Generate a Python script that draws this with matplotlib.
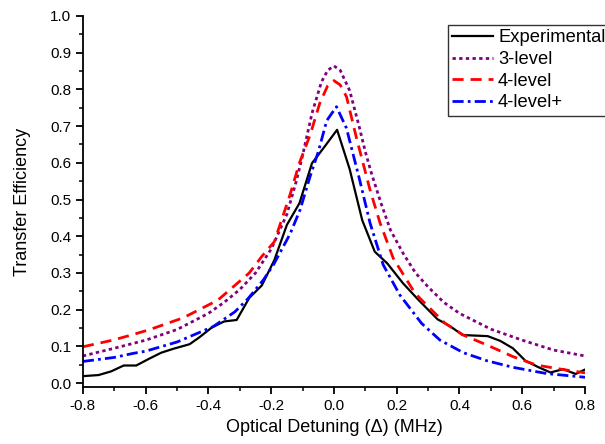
"""
Transfer efficiency vs optical detuning
Experimental data compared with the 3-level, 4-level and 4-level+ models.
"""

import matplotlib
matplotlib.use("Agg")
import matplotlib.pyplot as plt
from matplotlib.ticker import MultipleLocator

plt.rcParams['font.family'] = ['Liberation Sans', 'DejaVu Sans']

# Experimental points
exp_x = [-0.80, -0.75, -0.71, -0.67, -0.63, -0.59, -0.55, -0.51, -0.46, -0.43,
         -0.39, -0.35, -0.31, -0.27, -0.23, -0.19, -0.15, -0.11, -0.07, -0.03,
         0.01, 0.05, 0.09, 0.13, 0.17, 0.22, 0.27, 0.33, 0.37, 0.41,
         0.49, 0.53, 0.57, 0.61, 0.65, 0.69, 0.73, 0.77, 0.80]
exp_y = [0.019, 0.022, 0.032, 0.048, 0.048, 0.066, 0.083, 0.094, 0.106, 0.124,
         0.151, 0.168, 0.172, 0.232, 0.266, 0.335, 0.431, 0.490, 0.599, 0.644,
         0.690, 0.583, 0.444, 0.358, 0.326, 0.272, 0.226, 0.174, 0.155, 0.131,
         0.128, 0.115, 0.095, 0.061, 0.044, 0.029, 0.038, 0.025, 0.037]

# 3-level model
l3_x = [-0.80, -0.70, -0.60, -0.50, -0.40, -0.35, -0.30, -0.25, -0.20, -0.15,
        -0.12, -0.10, -0.07, -0.04, -0.02, 0.00, 0.02, 0.05, 0.08, 0.10,
        0.12, 0.15, 0.18, 0.22, 0.26, 0.30, 0.35, 0.40, 0.50, 0.60,
        0.70, 0.80]
l3_y = [0.074, 0.095, 0.117, 0.146, 0.190, 0.220, 0.255, 0.300, 0.365, 0.460,
        0.550, 0.620, 0.735, 0.820, 0.852, 0.864, 0.852, 0.797, 0.700, 0.630,
        0.570, 0.490, 0.417, 0.354, 0.300, 0.262, 0.220, 0.190, 0.147, 0.117,
        0.090, 0.074]

# 4-level model
l4_x = [-0.80, -0.70, -0.63, -0.59, -0.48, -0.37, -0.32, -0.27, -0.23, -0.19,
        -0.14, -0.11, -0.076, -0.045, -0.02, 0.00, 0.02, 0.04, 0.072, 0.115,
        0.147, 0.189, 0.258, 0.295, 0.354, 0.412, 0.487, 0.571, 0.646, 0.731,
        0.80]
l4_y = [0.099, 0.118, 0.135, 0.145, 0.178, 0.226, 0.263, 0.300, 0.345, 0.385,
        0.513, 0.600, 0.676, 0.763, 0.810, 0.824, 0.812, 0.780, 0.667, 0.526,
        0.436, 0.340, 0.245, 0.213, 0.163, 0.131, 0.104, 0.072, 0.049, 0.037,
        0.028]

# 4-level+ model
l4p_x = [-0.80, -0.70, -0.64, -0.60, -0.50, -0.385, -0.316, -0.273, -0.225, -0.193,
         -0.14, -0.108, -0.076, -0.05, -0.023, 0.008, 0.04, 0.056, 0.08, 0.115,
         0.157, 0.21, 0.279, 0.338, 0.412, 0.487, 0.571, 0.678, 0.80]
l4p_y = [0.059, 0.070, 0.081, 0.087, 0.112, 0.154, 0.194, 0.231, 0.281, 0.322,
         0.406, 0.472, 0.563, 0.630, 0.715, 0.753, 0.694, 0.640, 0.560, 0.436,
         0.322, 0.240, 0.163, 0.117, 0.083, 0.061, 0.043, 0.026, 0.016]

fig = plt.figure(figsize=(6.05, 4.44), dpi=100)
ax = fig.add_axes([0.137, 0.128, 0.830, 0.836])

ax.plot(exp_x, exp_y, color='black', lw=1.6, ls='-', label='Experimental')
ax.plot(l3_x, l3_y, color='#800080', lw=2, ls=(0, (1.2, 1.2)), label='3-level')
ax.plot(l4_x, l4_y, color='#ff0000', lw=2, ls=(0, (4, 2.5)), label='4-level')
ax.plot(l4p_x, l4p_y, color='#0000ff', lw=2, ls=(0, (4, 1.5, 1, 1.5)), label='4-level+')

ax.set_xlim(-0.8, 0.8)
ax.set_ylim(-0.011, 1.0)
ax.xaxis.set_major_locator(MultipleLocator(0.2))
ax.xaxis.set_minor_locator(MultipleLocator(0.1))
ax.yaxis.set_major_locator(MultipleLocator(0.1))
ax.yaxis.set_minor_locator(MultipleLocator(0.05))
ax.set_xticklabels([f'{v:.1f}' for v in ax.get_xticks()])
ax.set_yticklabels([f'{v:.1f}' for v in ax.get_yticks()])

for side in ('top', 'right'):
    ax.spines[side].set_visible(False)
for side in ('left', 'bottom'):
    ax.spines[side].set_linewidth(1.3)
ax.tick_params(which='major', direction='out', length=5, width=1.3, labelsize=11)
ax.tick_params(which='minor', direction='out', length=3, width=1.1)

ax.set_xlabel('Optical Detuning (\u0394) (MHz)', fontsize=13)
ax.set_ylabel('Transfer Efficiency', fontsize=13, labelpad=14)

leg = fig.legend(loc='upper left', bbox_to_anchor=(0.740, 0.944), fontsize=13.2,
                 frameon=True, fancybox=False, edgecolor='black',
                 handlelength=2.2, handletextpad=0.3, borderpad=0.25,
                 labelspacing=0.25, borderaxespad=0)
leg.get_frame().set_linewidth(1.0)

fig.savefig('out.png', dpi=100)
